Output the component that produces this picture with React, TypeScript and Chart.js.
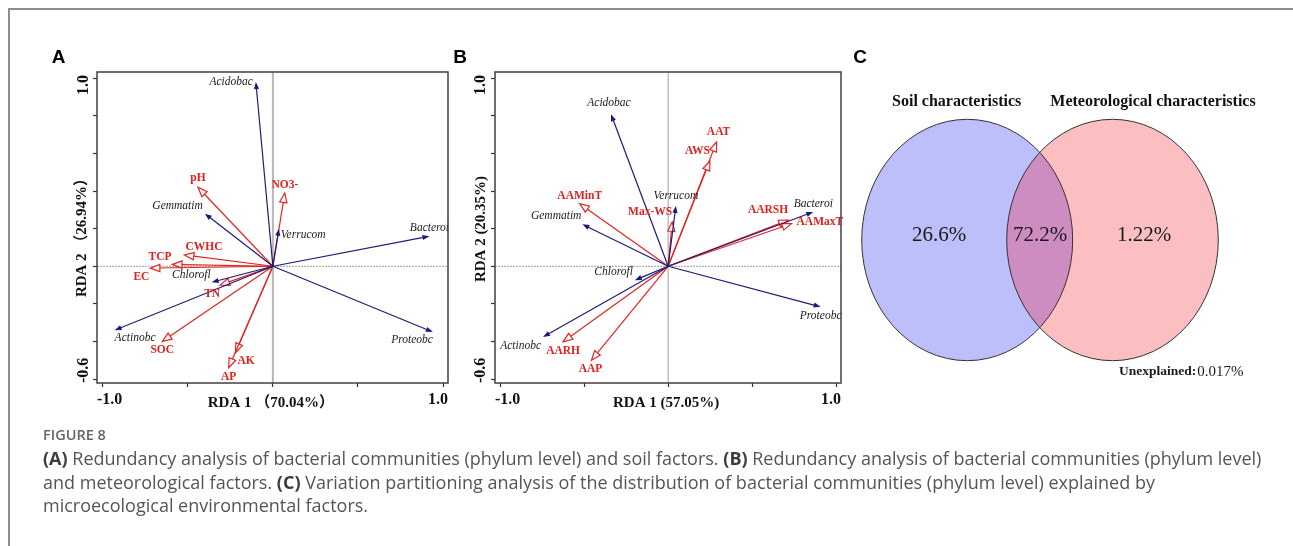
import React, { useEffect, useRef } from 'react';
import { Chart, registerables } from 'chart.js';

Chart.register(...registerables);

// ---------------- DATA ----------------
const speciesNames = ['Acidobac', 'Gemmatim', 'Verrucom', 'Bacteroi', 'Proteobc', 'Actinobc', 'Chlorofl'];

// Panel A: RDA with soil factors
const speciesA_RDA1 = [-0.1, -0.4, 0.035, 0.92, 0.94, -0.93, -0.36];
const speciesA_RDA2 = [0.98, 0.28, 0.2, 0.16, -0.35, -0.34, -0.085];
const soilFactors = ['pH', 'NO3-', 'CWHC', 'TCP', 'EC', 'TN', 'SOC', 'AK', 'AP'];
const soilRDA1 = [-0.44, 0.07, -0.52, -0.59, -0.72, -0.31, -0.65, -0.22, -0.26];
const soilRDA2 = [0.42, 0.39, 0.06, 0.01, -0.01, -0.1, -0.4, -0.46, -0.54];

// Panel B: RDA with meteorological factors
const speciesB_RDA1 = [-0.34, -0.51, 0.046, 0.863, 0.907, -0.744, -0.198];
const speciesB_RDA2 = [0.809, 0.223, 0.321, 0.289, -0.216, -0.376, -0.074];
const metFactors = ['AAT', 'AWS', 'AAMinT', 'Max-WS', 'AARSH', 'AAMaxT', 'AARH', 'AAP'];
const metRDA1 = [0.288, 0.248, -0.526, 0.024, 0.714, 0.734, -0.625, -0.456];
const metRDA2 = [0.661, 0.56, 0.333, 0.236, 0.245, 0.227, -0.402, -0.5];

// Axes
const xTickValues = [-1, -0.5, 0, 0.5, 1];
const yTickValues = [-0.6, -0.4, -0.2, 0, 0.2, 0.4, 0.6, 0.8, 1.0];
const xEndLabels = ['-1.0', '1.0'];
const yEndLabels = ['-0.6', '1.0'];
const titlesA = ['RDA 1 （70.04%）', 'RDA 2 （26.94%）'];
const titlesB = ['RDA 1 (57.05%)', 'RDA 2 (20.35%)'];

// Panel C: variation partitioning
const vennSetNames = ['Soil characteristics', 'Meteorological characteristics'];
const vennPartLabels = ['26.6%', '72.2%', '1.22%'];
const unexplainedLabel = 'Unexplained:';
const unexplainedValue = '0.017%';

// ---------------- STYLE / LAYOUT ----------------
const BLUE = '#1c1c78';
const RED = '#e6231f';
const SERIF = '"Liberation Serif", "Times New Roman", "Noto Sans CJK SC", serif';

type Place = [number, number, CanvasTextAlign];
const placeA: Record<string, Place> = {
  Acidobac: [-3, 0, 'right'],
  Gemmatim: [-2, -8, 'right'],
  Verrucom: [2, 6, 'left'],
  Bacteroi: [0, -8, 'center'],
  Proteobc: [0, 8, 'right'],
  Actinobc: [0, 8, 'left'],
  Chlorofl: [-1, -7, 'right'],
  pH: [0, -9, 'center'],
  'NO3-': [0, -8, 'center'],
  CWHC: [1, -8, 'left'],
  TCP: [-1, -7, 'right'],
  EC: [-1, 9, 'right'],
  TN: [0, 9, 'right'],
  SOC: [0, 9, 'center'],
  AK: [2, 8, 'left'],
  AP: [0, 9, 'center'],
};
const placeB: Record<string, Place> = {
  Acidobac: [-2, -11, 'center'],
  Gemmatim: [-1, -8, 'right'],
  Verrucom: [0, -10, 'center'],
  Bacteroi: [0, -8, 'center'],
  Proteobc: [0, 9, 'center'],
  Actinobc: [-2, 9, 'right'],
  Chlorofl: [-2, -8, 'right'],
  AAT: [2, -10, 'center'],
  AWS: [0, -10, 'right'],
  AAMinT: [0, -8, 'center'],
  'Max-WS': [0, -10, 'right'],
  AARSH: [0, -10, 'right'],
  AAMaxT: [5, -2, 'left'],
  AARH: [0, 9, 'center'],
  AAP: [-1, 9, 'center'],
};

type RdaCfg = {
  letter: string;
  letterPos: [number, number];
  left: number; top: number; width: number; height: number;
  area: { left: number; top: number; right: number; bottom: number };
  xRange: [number, number];
  yRange: [number, number];
  spX: number[]; spY: number[];
  envNames: string[]; envX: number[]; envY: number[];
  titles: string[];
  xTitleY: number;
  yTitlePos: [number, number];
  yTickX: number;
  xTickY: number;
  place: Record<string, Place>;
  vZero: [string, number];
};

const cfgA: RdaCfg = {
  letter: 'A', letterPos: [18.5, 18],
  left: 40, top: 40, width: 410, height: 380,
  area: { left: 57, top: 32, right: 408, bottom: 343 },
  xRange: [-1.0335, 1.029], yRange: [-0.621, 1.0335],
  spX: speciesA_RDA1, spY: speciesA_RDA2,
  envNames: soilFactors, envX: soilRDA1, envY: soilRDA2,
  titles: titlesA, xTitleY: 363, yTitlePos: [42, 194], yTickX: 43.5, xTickY: 360,
  place: placeA, vZero: ['#b8b8b8', 2],
};
const cfgB: RdaCfg = {
  letter: 'B', letterPos: [10, 18],
  left: 450, top: 40, width: 395, height: 380,
  area: { left: 45, top: 32, right: 391, bottom: 343 },
  xRange: [-1.0298, 1.028], yRange: [-0.621, 1.0335],
  spX: speciesB_RDA1, spY: speciesB_RDA2,
  envNames: metFactors, envX: metRDA1, envY: metRDA2,
  titles: titlesB, xTitleY: 363, yTitlePos: [31, 189], yTickX: 30.5, xTickY: 360,
  place: placeB, vZero: ['#a0a0a0', 1],
};

function drawArrow(ctx: CanvasRenderingContext2D, x0: number, y0: number, x1: number, y1: number, kind: 'sp' | 'env') {
  const ang = Math.atan2(y1 - y0, x1 - x0);
  const c = Math.cos(ang), s = Math.sin(ang);
  const L = kind === 'sp' ? 7 : 9.5;
  const W = kind === 'sp' ? 2.6 : 3.6;
  const bx = x1 - L * c, by = y1 - L * s;
  ctx.save();
  ctx.strokeStyle = kind === 'sp' ? BLUE : RED;
  ctx.fillStyle = kind === 'sp' ? BLUE : RED;
  ctx.lineWidth = 1.2;
  ctx.beginPath();
  ctx.moveTo(x0, y0);
  ctx.lineTo(kind === 'sp' ? bx + 1 * c : bx, kind === 'sp' ? by + 1 * s : by);
  ctx.stroke();
  ctx.beginPath();
  ctx.moveTo(x1, y1);
  ctx.lineTo(bx + W * s, by - W * c);
  ctx.lineTo(bx - W * s, by + W * c);
  ctx.closePath();
  if (kind === 'sp') ctx.fill();
  else { ctx.fillStyle = '#ffffff'; ctx.fill(); ctx.stroke(); }
  ctx.restore();
}

function RdaPanel({ cfg }: { cfg: RdaCfg }) {
  const ref = useRef<HTMLCanvasElement>(null);
  useEffect(() => {
    const canvas = ref.current!;
    const plugin = {
      id: 'rdaDraw' + cfg.letter,
      beforeDatasetsDraw(chart: any) {
        const { ctx, chartArea: a, scales } = chart;
        const ox = scales.x.getPixelForValue(0);
        const oy = scales.y.getPixelForValue(0);
        ctx.save();
        ctx.strokeStyle = cfg.vZero[0];
        ctx.lineWidth = cfg.vZero[1];
        ctx.beginPath(); ctx.moveTo(ox, a.top); ctx.lineTo(ox, a.bottom); ctx.stroke();
        ctx.strokeStyle = '#9a9a9a';
        ctx.lineWidth = 1;
        ctx.setLineDash([2, 1]);
        ctx.beginPath(); ctx.moveTo(a.left, oy); ctx.lineTo(a.right, oy); ctx.stroke();
        ctx.restore();
      },
      afterDatasetsDraw(chart: any) {
        const { ctx, scales } = chart;
        const ox = scales.x.getPixelForValue(0);
        const oy = scales.y.getPixelForValue(0);
        const order = [1, 0];
        order.forEach((di) => {
          const ds = chart.data.datasets[di];
          const kind = di === 0 ? 'sp' : 'env';
          ds.data.forEach((p: any) => {
            const tx = scales.x.getPixelForValue(p.x);
            const ty = scales.y.getPixelForValue(p.y);
            drawArrow(ctx, ox, oy, tx, ty, kind);
          });
        });
        chart.data.datasets.forEach((ds: any, di: number) => {
          ds.data.forEach((p: any) => {
            const tx = scales.x.getPixelForValue(p.x);
            const ty = scales.y.getPixelForValue(p.y);
            const pl = cfg.place[p.name] || [0, -8, 'center'];
            ctx.save();
            ctx.font = di === 0 ? `italic 11.5px ${SERIF}` : `bold 11.5px ${SERIF}`;
            ctx.fillStyle = di === 0 ? '#1a1a1a' : '#e3201b';
            ctx.textAlign = pl[2];
            ctx.textBaseline = 'middle';
            ctx.fillText(p.name, tx + pl[0], ty + pl[1]);
            ctx.restore();
          });
        });
      },
      afterDraw(chart: any) {
        const { ctx, chartArea: a, scales } = chart;
        ctx.save();
        // frame
        ctx.strokeStyle = '#404040';
        ctx.lineWidth = 1.5;
        ctx.strokeRect(a.left, a.top, a.right - a.left, a.bottom - a.top);
        // tick labels
        ctx.fillStyle = '#111';
        ctx.font = `bold 16px ${SERIF}`;
        ctx.textBaseline = 'middle';
        ctx.textAlign = 'left';
        ctx.fillText(xEndLabels[0], a.left, cfg.xTickY);
        ctx.textAlign = 'right';
        ctx.fillText(xEndLabels[1], a.right, cfg.xTickY);
        ctx.save();
        ctx.translate(cfg.yTickX, a.top + 3);
        ctx.rotate(-Math.PI / 2);
        ctx.textAlign = 'right';
        ctx.fillText(yEndLabels[1], 0, 0);
        ctx.restore();
        ctx.save();
        ctx.translate(cfg.yTickX, a.bottom);
        ctx.rotate(-Math.PI / 2);
        ctx.textAlign = 'left';
        ctx.fillText(yEndLabels[0], 0, 0);
        ctx.restore();
        // titles
        ctx.font = `bold 15px ${SERIF}`;
        ctx.textAlign = 'center';
        ctx.fillText(cfg.titles[0], scales.x.getPixelForValue(0) - 2, cfg.xTitleY);
        ctx.save();
        ctx.translate(cfg.yTitlePos[0], cfg.yTitlePos[1]);
        ctx.rotate(-Math.PI / 2);
        ctx.fillText(cfg.titles[1], 0, 0);
        ctx.restore();
        // panel letter
        ctx.font = 'bold 19px "Liberation Sans", Arial, sans-serif';
        ctx.fillStyle = '#000';
        ctx.fillText(cfg.letter, cfg.letterPos[0], cfg.letterPos[1]);
        ctx.restore();
      },
    };
    const chart = new Chart(canvas, {
      type: 'scatter',
      data: {
        datasets: [
          {
            label: 'species',
            data: speciesNames.map((n, i) => ({ x: cfg.spX[i], y: cfg.spY[i], name: n })) as any,
            pointRadius: 0,
            borderColor: BLUE,
            backgroundColor: BLUE,
          },
          {
            label: 'factors',
            data: cfg.envNames.map((n, i) => ({ x: cfg.envX[i], y: cfg.envY[i], name: n })) as any,
            pointRadius: 0,
            borderColor: RED,
            backgroundColor: RED,
          },
        ],
      },
      options: {
        responsive: false,
        animation: false,
        events: [],
        layout: { padding: { left: 0, top: cfg.area.top, right: cfg.width - cfg.area.right, bottom: 0 } },
        plugins: { legend: { display: false }, tooltip: { enabled: false } },
        scales: {
          x: {
            type: 'linear',
            min: cfg.xRange[0],
            max: cfg.xRange[1],
            afterBuildTicks: (s: any) => { s.ticks = xTickValues.map((v) => ({ value: v })); },
            afterFit: (s: any) => { s.height = cfg.height - cfg.area.bottom; },
            ticks: { display: false },
            grid: { drawOnChartArea: false, drawTicks: true, tickLength: 4, tickColor: '#333', tickWidth: 1.2 },
            border: { display: false },
          },
          y: {
            type: 'linear',
            min: cfg.yRange[0],
            max: cfg.yRange[1],
            afterBuildTicks: (s: any) => { s.ticks = yTickValues.map((v) => ({ value: v })); },
            afterFit: (s: any) => { s.width = cfg.area.left; },
            ticks: { display: false },
            grid: { drawOnChartArea: false, drawTicks: true, tickLength: 4, tickColor: '#333', tickWidth: 1.2 },
            border: { display: false },
          },
        },
      },
      plugins: [plugin as any],
    });
    return () => chart.destroy();
  }, [cfg]);
  return (
    <canvas
      ref={ref}
      width={cfg.width}
      height={cfg.height}
      style={{ position: 'fixed', left: cfg.left, top: cfg.top, width: cfg.width, height: cfg.height }}
    />
  );
}

// Venn geometry in chart units
const vennW = 445;
const vennH = 360;
const vennCenters = [[122.2, 200], [267.5, 200]];
const vennRadii = [[105.5, 120.7], [105.8, 120.7]];

function VennPanel() {
  const ref = useRef<HTMLCanvasElement>(null);
  useEffect(() => {
    const canvas = ref.current!;
    const plugin = {
      id: 'vennDraw',
      beforeDatasetsDraw(chart: any) {
        const { ctx, scales } = chart;
        const xs = scales.x, ys = scales.y;
        const el = chart.data.datasets[0].data.map((p: any, i: number) => {
          const cx = xs.getPixelForValue(p.x);
          const cy = ys.getPixelForValue(p.y);
          const rx = Math.abs(xs.getPixelForValue(p.x + vennRadii[i][0]) - cx);
          const ry = Math.abs(ys.getPixelForValue(p.y + vennRadii[i][1]) - cy);
          return { cx, cy, rx, ry };
        });
        const path = (e: any) => { ctx.beginPath(); ctx.ellipse(e.cx, e.cy, e.rx, e.ry, 0, 0, Math.PI * 2); };
        ctx.save();
        path(el[0]); ctx.fillStyle = '#bdbffa'; ctx.fill();
        path(el[1]); ctx.fillStyle = '#fcbfc1'; ctx.fill();
        ctx.save();
        path(el[0]); ctx.clip();
        path(el[1]); ctx.fillStyle = '#cd8dc1'; ctx.fill();
        ctx.restore();
        ctx.strokeStyle = '#333';
        ctx.lineWidth = 1;
        path(el[0]); ctx.stroke();
        path(el[1]); ctx.stroke();
        // labels
        ctx.fillStyle = '#111';
        ctx.textAlign = 'center';
        ctx.textBaseline = 'middle';
        ctx.font = `bold 16px ${SERIF}`;
        ctx.fillText(vennSetNames[0], xs.getPixelForValue(111.7), ys.getPixelForValue(61.7));
        ctx.fillText(vennSetNames[1], xs.getPixelForValue(308), ys.getPixelForValue(61.7));
        ctx.font = `21px ${SERIF}`;
        ctx.fillStyle = '#1a1a1a';
        const partX = [94, 195, 299];
        vennPartLabels.forEach((t, i) => ctx.fillText(t, xs.getPixelForValue(partX[i]), ys.getPixelForValue(195)));
        ctx.textAlign = 'left';
        ctx.font = `bold 13.5px ${SERIF}`;
        const ux = xs.getPixelForValue(274);
        const uy = ys.getPixelForValue(332);
        ctx.fillText(unexplainedLabel, ux, uy);
        const w = ctx.measureText(unexplainedLabel).width;
        ctx.font = `15px ${SERIF}`;
        ctx.fillText(unexplainedValue, ux + w + 1, uy);
        ctx.font = 'bold 19px "Liberation Sans", Arial, sans-serif';
        ctx.fillStyle = '#000';
        ctx.textAlign = 'center';
        ctx.fillText('C', 15, 18);
        ctx.restore();
      },
    };
    const chart = new Chart(canvas, {
      type: 'scatter',
      data: {
        datasets: [
          {
            label: 'sets',
            data: vennCenters.map((c) => ({ x: c[0], y: c[1] })),
            pointRadius: 0,
          },
        ],
      },
      options: {
        responsive: false,
        animation: false,
        events: [],
        layout: { padding: 0 },
        plugins: { legend: { display: false }, tooltip: { enabled: false } },
        scales: {
          x: { type: 'linear', min: 0, max: vennW, display: false },
          y: { type: 'linear', min: 0, max: vennH, reverse: true, display: false },
        },
      },
      plugins: [plugin as any],
    });
    return () => chart.destroy();
  }, []);
  return (
    <canvas
      ref={ref}
      width={vennW}
      height={vennH}
      style={{ position: 'fixed', left: 845, top: 40, width: vennW, height: vennH }}
    />
  );
}

export default function App() {
  useEffect(() => {
    document.documentElement.style.overflow = 'hidden';
    document.body.style.overflow = 'hidden';
  }, []);
  const bold = { fontWeight: 700, color: '#3c3c3c' } as React.CSSProperties;
  return (
    <div>
      <div
        style={{
          position: 'fixed', left: 8, top: 8, right: -10, bottom: -10,
          borderTop: '2px solid #8e8e8e', borderLeft: '2px solid #8e8e8e',
        }}
      />
      <RdaPanel cfg={cfgA} />
      <RdaPanel cfg={cfgB} />
      <VennPanel />
      <div
        style={{
          position: 'fixed', left: 43, top: 425, fontFamily: '"Open Sans", sans-serif',
          color: '#555', whiteSpace: 'nowrap',
        }}
      >
        <div style={{ fontSize: 14.5, fontWeight: 600, lineHeight: '20px', color: '#666' }}>FIGURE 8</div>
        <div style={{ fontSize: 18, lineHeight: '23.6px', marginTop: 2 }}>
          <span style={bold}>(A)</span> Redundancy analysis of bacterial communities (phylum level) and soil factors.{' '}
          <span style={bold}>(B)</span> Redundancy analysis of bacterial communities (phylum level)
          <br />
          and meteorological factors. <span style={bold}>(C)</span> Variation partitioning analysis of the distribution
          of bacterial communities (phylum level) explained by
          <br />
          microecological environmental factors.
        </div>
      </div>
    </div>
  );
}
